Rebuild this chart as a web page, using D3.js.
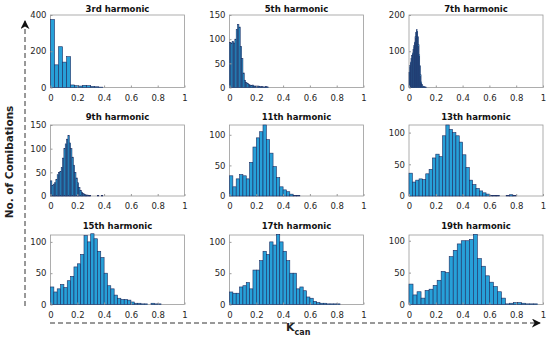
<!DOCTYPE html>
<html>
<head>
<meta charset="utf-8">
<script src="https://cdn.jsdelivr.net/npm/d3@7"></script>
<style>
  body { margin: 0; background: #fff; }
  text { font-family: "DejaVu Sans", sans-serif; }
</style>
</head>
<body>
<svg id="chart"></svg>
<script>
var viewWidth = 550;
var viewHeight = 345;

// panel titles, in reading order
var titles = ["3rd harmonic", "5th harmonic", "7th harmonic",
              "9th harmonic", "11th harmonic", "13th harmonic",
              "15th harmonic", "17th harmonic", "19th harmonic"];

// bin widths of each histogram (K_can units)
var binWidths = [0.03, 0.01, 0.005, 0.01, 0.025, 0.025, 0.025, 0.025, 0.03];

// bin counts
var counts3 = [375, 125, 225, 140, 170, 14, 10, 8, 12, 10, 6, 4, 2];
var counts5 = [93, 92, 95, 92, 100, 120, 130, 125, 85, 60, 30, 15, 10, 8, 6, 5, 4, 5, 3, 3, 2, 3, 2, 1, 2, 1, 1, 2, 1];
var counts7 = [42, 60, 70, 80, 88, 95, 105, 115, 125, 140, 152, 160, 155, 140, 118, 90, 60, 35, 15, 8, 4, 3, 2, 2, 1, 1];
var counts9 = [32, 22, 25, 28, 35, 45, 50, 52, 60, 80, 100, 110, 120, 128, 112, 100, 82, 65, 50, 38, 28, 18, 12, 8, 5, 3, 2, 2, 1, 1, 0, 0, 0, 0, 0, 1, 0, 0, 1];
var counts11 = [33, 15, 28, 35, 33, 28, 55, 80, 95, 105, 116, 92, 70, 48, 30, 15, 10, 7, 3, 1, 1];
var counts13 = [36, 22, 25, 27, 26, 35, 42, 60, 66, 62, 95, 112, 105, 100, 95, 85, 65, 45, 25, 18, 12, 8, 5, 3, 1, 1, 1, 0, 0, 1, 2, 1];
var counts15 = [28, 20, 25, 32, 27, 38, 45, 60, 65, 80, 110, 100, 113, 105, 85, 75, 50, 30, 25, 15, 10, 8, 8, 7, 4, 2, 2, 1, 1, 0, 2, 1, 1];
var counts17 = [20, 18, 18, 28, 30, 35, 25, 55, 55, 70, 85, 80, 100, 95, 112, 100, 85, 70, 50, 50, 25, 28, 22, 12, 10, 5, 3, 2, 2, 1, 1, 1, 1];
var counts19 = [32, 15, 20, 10, 22, 24, 30, 38, 52, 50, 75, 85, 95, 100, 100, 102, 110, 72, 60, 45, 35, 28, 20, 10, 1, 2, 3, 3, 2, 1, 1, 1];

var allCounts = [counts3, counts5, counts7, counts9, counts11, counts13, counts15, counts17, counts19];

// y axis limits and ticks per panel
var yMax = [400, 150, 200, 150, 116, 112, 111, 111, 109];
var yTicks = [[0, 200, 400], [0, 50, 100, 150], [0, 100, 200],
              [0, 50, 100, 150], [0, 50, 100], [0, 50, 100],
              [0, 50, 100], [0, 50, 100], [0, 50, 100]];
var xTicks = [0, 0.2, 0.4, 0.6, 0.8, 1];

// grid layout
var colLeft = [50.5, 229.5, 409];
var plotW = 134;
var rowTop = [15, 125, 235];
var rowBottom = [87.5, 196, 304.5];
var titleY = [12, 120, 229];

var svg = d3.select("#chart")
    .attr("width", viewWidth)
    .attr("height", viewHeight);

var defs = svg.append("defs");
defs.append("marker")
    .attr("id", "arrow")
    .attr("viewBox", "0 0 10 10")
    .attr("refX", 9)
    .attr("refY", 5)
    .attr("markerWidth", 9)
    .attr("markerHeight", 9)
    .attr("markerUnits", "userSpaceOnUse")
    .attr("orient", "auto")
  .append("path")
    .attr("d", "M0,0 L10,5 L0,10 L3,5 Z")
    .style("fill", "#111");

titles.forEach(function(title, i) {
  var r = Math.floor(i / 3), c = i % 3;
  var x0 = colLeft[c], y0 = rowTop[r], h = rowBottom[r] - rowTop[r];

  var g = svg.append("g")
      .attr("transform", "translate(" + x0 + "," + y0 + ")");

  var x = d3.scaleLinear().domain([0, 1]).range([0, plotW]);
  var y = d3.scaleLinear().domain([0, yMax[i]]).range([h, 0]);

  var bins = allCounts[i].map(function(v, k) {
    return {x0: k * binWidths[i], x1: (k + 1) * binWidths[i], n: v};
  });

  // box
  g.append("rect")
      .attr("width", plotW)
      .attr("height", h)
      .style("fill", "none")
      .style("stroke", "#9a9a9a")
      .style("stroke-width", 0.8);

  g.selectAll(".bar")
      .data(bins.filter(function(d) { return d.n > 0; }))
    .enter().append("rect")
      .attr("class", "bar")
      .attr("x", function(d) { return x(d.x0); })
      .attr("width", function(d) { return x(d.x1) - x(d.x0); })
      .attr("y", function(d) { return y(d.n); })
      .attr("height", function(d) { return y(0) - y(d.n); })
      .style("fill", "#27a0d8")
      .style("stroke", "#1d2b60")
      .style("stroke-width", 0.6);

  var xAxis = d3.axisBottom(x)
      .tickValues(xTicks)
      .tickSizeInner(-2)
      .tickSizeOuter(0)
      .tickPadding(7)
      .tickFormat(d3.format("~g"));
  var yAxis = d3.axisLeft(y)
      .tickValues(yTicks[i])
      .tickSizeInner(-2)
      .tickSizeOuter(0)
      .tickPadding(4);

  var gx = g.append("g")
      .attr("transform", "translate(0," + h + ")")
      .call(xAxis);
  var gy = g.append("g").call(yAxis);

  [gx, gy].forEach(function(a) {
    a.select(".domain").remove();
    a.selectAll(".tick line").style("stroke", "#9a9a9a");
    a.selectAll(".tick text")
        .style("font-size", "8.5px")
        .style("fill", "#262626");
  });

  svg.append("text")
      .attr("x", x0 + plotW / 2)
      .attr("y", titleY[r])
      .style("text-anchor", "middle")
      .style("font-size", "8.5px")
      .style("font-weight", "bold")
      .style("fill", "#111")
      .text(title);
});

// dashed arrows for the shared axes
svg.append("line")
    .attr("x1", 25).attr("y1", 306)
    .attr("x2", 25).attr("y2", 21)
    .style("stroke", "#333")
    .style("stroke-width", 1)
    .style("stroke-dasharray", "5,3")
    .attr("marker-end", "url(#arrow)");

svg.append("line")
    .attr("x1", 50).attr("y1", 323)
    .attr("x2", 540).attr("y2", 323)
    .style("stroke", "#333")
    .style("stroke-width", 1)
    .style("stroke-dasharray", "5,3")
    .attr("marker-end", "url(#arrow)");

svg.append("text")
    .attr("transform", "translate(13,162) rotate(-90)")
    .style("text-anchor", "middle")
    .style("font-size", "10.5px")
    .style("font-weight", "bold")
    .style("fill", "#222")
    .text("No. of Comibations");

var kLabel = svg.append("text")
    .attr("x", 286)
    .attr("y", 331)
    .style("font-size", "11px")
    .style("font-weight", "bold")
    .style("fill", "#222");
kLabel.append("tspan").text("K");
kLabel.append("tspan")
    .attr("dy", 4)
    .style("font-size", "8px")
    .text("can");
</script>
</body>
</html>
